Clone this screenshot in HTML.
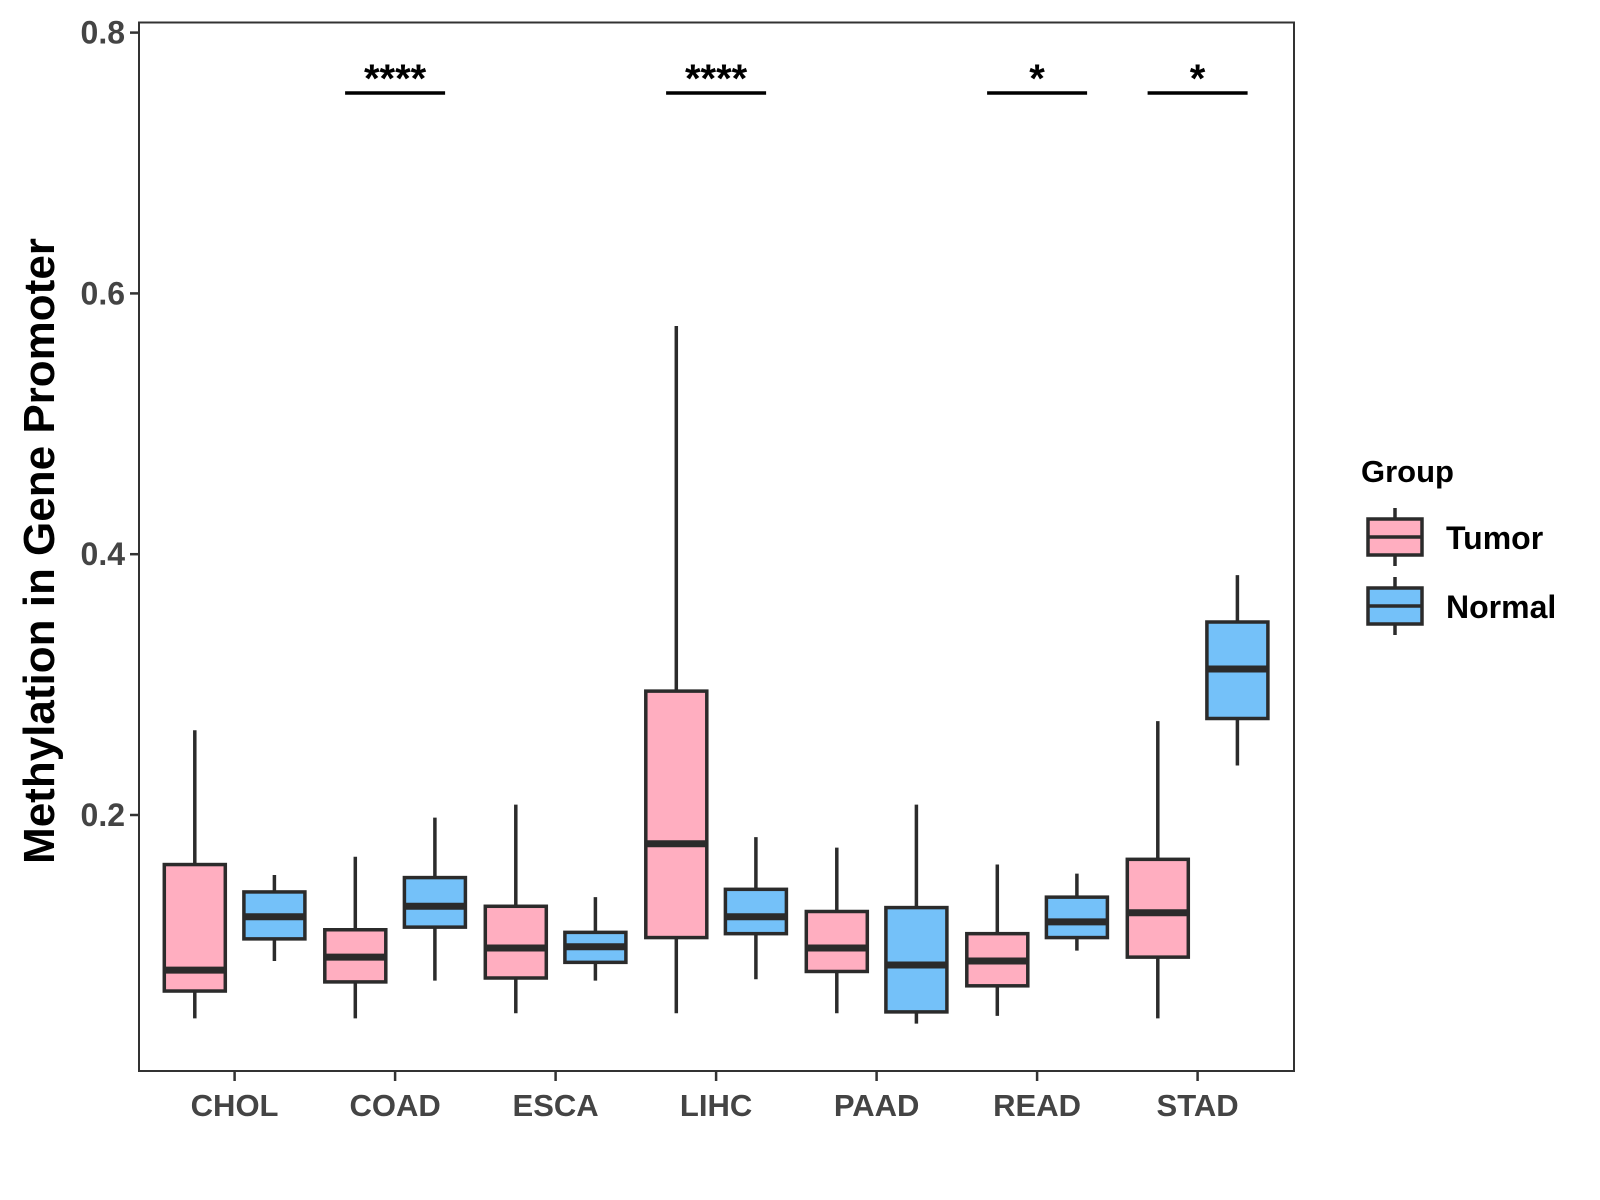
<!DOCTYPE html>
<html><head><meta charset="utf-8"><style>
body{margin:0;background:#fff;}
svg{display:block;font-family:"Liberation Sans",Arial,sans-serif;}
</style></head><body>
<svg id="chart" width="1600" height="1200" viewBox="0 0 1600 1200">
<rect x="0" y="0" width="1600" height="1200" fill="#fff"/>
<g id="plot"></g>
<rect x="139" y="22.5" width="1155" height="1048.5" fill="none" stroke="#333" stroke-width="2"/>
<text transform="translate(54,551) rotate(-90)" text-anchor="middle" font-size="44" font-weight="bold" fill="#000">Methylation in Gene Promoter</text>
<g>
<text x="1361" y="482" font-size="31" font-weight="bold" fill="#000">Group</text>
<g>
<line x1="1395" y1="508" x2="1395" y2="566" stroke="#2b2b2b" stroke-width="3.5"/>
<rect x="1368" y="519" width="54" height="36" fill="#FFAEC0" stroke="#2b2b2b" stroke-width="3.5"/>
<line x1="1368" y1="537" x2="1422" y2="537" stroke="#2b2b2b" stroke-width="3.5"/>
<text x="1446" y="549" font-size="32" font-weight="bold" fill="#000">Tumor</text>
</g>
<g>
<line x1="1395" y1="577" x2="1395" y2="635" stroke="#2b2b2b" stroke-width="3.5"/>
<rect x="1368" y="588" width="54" height="36" fill="#74C1F9" stroke="#2b2b2b" stroke-width="3.5"/>
<line x1="1368" y1="606" x2="1422" y2="606" stroke="#2b2b2b" stroke-width="3.5"/>
<text x="1446" y="618" font-size="32" font-weight="bold" fill="#000">Normal</text>
</g>
</g>
</svg>
<script>
const categories = ["CHOL","COAD","ESCA","LIHC","PAAD","READ","STAD"];
// [lowerWhisker, q1, median, q3, upperWhisker]
const tumorStats = [
 [0.044,0.065,0.081,0.162,0.265],
 [0.044,0.072,0.091,0.112,0.168],
 [0.048,0.075,0.098,0.130,0.208],
 [0.048,0.106,0.178,0.295,0.575],
 [0.048,0.080,0.098,0.126,0.175],
 [0.046,0.069,0.088,0.109,0.162],
 [0.044,0.091,0.125,0.166,0.272]
];
const normalStats = [
 [0.088,0.105,0.122,0.141,0.154],
 [0.073,0.114,0.130,0.152,0.198],
 [0.073,0.087,0.099,0.110,0.137],
 [0.074,0.109,0.122,0.143,0.183],
 [0.040,0.049,0.085,0.129,0.208],
 [0.096,0.106,0.118,0.137,0.155],
 [0.238,0.274,0.312,0.348,0.384]
];
const yTicks = [0.2,0.4,0.6,0.8];
const yTickLabels = ["0.2","0.4","0.6","0.8"];
const sigCategories = ["COAD","LIHC","READ","STAD"];
const sigLabels = ["****","****","*","*"];

const NS="http://www.w3.org/2000/svg";
const g=document.getElementById('plot');
const y=v=>32.6+(0.8-v)*1304;
const xCat=i=>234.6+i*160.5;
const OFF=39.8, BW=61;
function mk(tag,attrs,parent){const e=document.createElementNS(NS,tag);for(const k in attrs)e.setAttribute(k,attrs[k]);(parent||g).appendChild(e);return e;}

yTicks.forEach((t,i)=>{
  const tk=mk('line',{x1:130,x2:139,y1:y(t),y2:y(t),stroke:'#333','stroke-width':2.5});
  
  
  const tx=mk('text',{x:125,y:y(t)+11,'text-anchor':'end','font-size':32,'font-weight':'bold',fill:'#444'});
  
  
  tx.textContent=yTickLabels[i];
});
categories.forEach((c,i)=>{
  const tk=mk('line',{x1:xCat(i),x2:xCat(i),y1:1071,y2:1081,stroke:'#333','stroke-width':2.5});
  
  
  const tx=mk('text',{x:xCat(i),y:1116,'text-anchor':'middle','font-size':31,'font-weight':'bold',fill:'#444'});
  
  
  tx.textContent=c;
});
function box(cx,s,fill,name){
  const grp=mk('g',{});
  
  
  mk('line',{x1:cx,x2:cx,y1:y(s[0]),y2:y(s[4]),stroke:'#2b2b2b','stroke-width':3.5},grp);
  mk('rect',{x:cx-BW/2,y:y(s[3]),width:BW,height:y(s[1])-y(s[3]),fill:fill,stroke:'#2b2b2b','stroke-width':3.5},grp);
  mk('line',{x1:cx-BW/2,x2:cx+BW/2,y1:y(s[2]),y2:y(s[2]),stroke:'#2b2b2b','stroke-width':7},grp);
}
categories.forEach((c,i)=>{
  box(xCat(i)-OFF,tumorStats[i],'#FFAEC0','box-tumor-'+c.toLowerCase());
  box(xCat(i)+OFF,normalStats[i],'#74C1F9','box-normal-'+c.toLowerCase());
});
sigCategories.forEach((c,j)=>{
  const i=categories.indexOf(c);
  const ln=mk('line',{x1:xCat(i)-50,x2:xCat(i)+50,y1:93,y2:93,stroke:'#000','stroke-width':3.5});
  
  
  const tx=mk('text',{x:xCat(i),y:92,'text-anchor':'middle','font-size':40,'font-weight':'bold',fill:'#000'});
  
  
  tx.textContent=sigLabels[j];
});
</script>
</body></html>
